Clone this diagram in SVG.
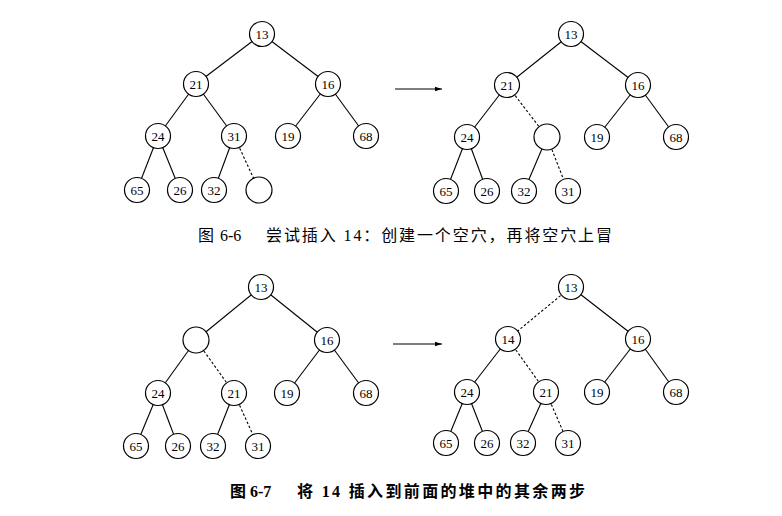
<svg xmlns="http://www.w3.org/2000/svg" width="782" height="516" viewBox="0 0 782 516">
<defs>
<style>
.e{stroke:#000;stroke-width:1.1;fill:none}
.d{stroke:#000;stroke-width:1.1;fill:none;stroke-dasharray:2.5,2}
.n circle{fill:#fff;stroke:#000;stroke-width:1.2}
.n text{font-family:"Liberation Serif",serif;font-size:13px;text-anchor:middle;fill:#000}
.cap{font-family:"Liberation Serif","Noto Sans CJK SC",serif;font-size:16px;fill:#000}
.b{font-weight:bold}
</style>
<marker id="ah" markerWidth="8" markerHeight="6" refX="7" refY="3" orient="auto" markerUnits="userSpaceOnUse">
<path d="M0,0.8 L7,3 L0,5.2 Z" fill="#000"/>
</marker>
</defs>
<rect width="782" height="516" fill="#fff"/>

<g id="connectors">
<!-- tree 1 -->
<line class="e" x1="262" y1="34" x2="196" y2="84"/>
<line class="e" x1="262" y1="34" x2="328" y2="84"/>
<line class="e" x1="196" y1="84" x2="158" y2="136"/>
<line class="e" x1="196" y1="84" x2="234" y2="136"/>
<line class="e" x1="328" y1="84" x2="288" y2="136"/>
<line class="e" x1="328" y1="84" x2="366" y2="136"/>
<line class="e" x1="158" y1="136" x2="137" y2="190"/>
<line class="e" x1="158" y1="136" x2="180" y2="190"/>
<line class="e" x1="234" y1="136" x2="214" y2="190"/>
<line class="d" x1="234" y1="136" x2="259" y2="190"/>
<!-- tree 2 -->
<line class="e" x1="571" y1="34" x2="507" y2="85"/>
<line class="e" x1="571" y1="34" x2="638" y2="85"/>
<line class="e" x1="507" y1="85" x2="467" y2="137"/>
<line class="d" x1="507" y1="85" x2="547" y2="137"/>
<line class="e" x1="638" y1="85" x2="597" y2="137"/>
<line class="e" x1="638" y1="85" x2="676" y2="137"/>
<line class="e" x1="467" y1="137" x2="446" y2="191"/>
<line class="e" x1="467" y1="137" x2="487" y2="191"/>
<line class="e" x1="547" y1="137" x2="524" y2="191"/>
<line class="d" x1="547" y1="137" x2="568" y2="191"/>
<!-- tree 3 -->
<line class="e" x1="261" y1="287" x2="196" y2="340"/>
<line class="e" x1="261" y1="287" x2="327" y2="340"/>
<line class="e" x1="196" y1="340" x2="158" y2="393"/>
<line class="d" x1="196" y1="340" x2="234" y2="393"/>
<line class="e" x1="327" y1="340" x2="287" y2="393"/>
<line class="e" x1="327" y1="340" x2="366" y2="393"/>
<line class="e" x1="158" y1="393" x2="136" y2="446"/>
<line class="e" x1="158" y1="393" x2="178" y2="446"/>
<line class="e" x1="234" y1="393" x2="213" y2="446"/>
<line class="d" x1="234" y1="393" x2="258" y2="446"/>
<!-- tree 4 -->
<line class="d" x1="571" y1="287" x2="508" y2="339"/>
<line class="e" x1="571" y1="287" x2="638" y2="339"/>
<line class="e" x1="508" y1="339" x2="467" y2="392"/>
<line class="d" x1="508" y1="339" x2="546" y2="392"/>
<line class="e" x1="638" y1="339" x2="597" y2="392"/>
<line class="e" x1="638" y1="339" x2="676" y2="392"/>
<line class="e" x1="467" y1="392" x2="446" y2="443"/>
<line class="e" x1="467" y1="392" x2="487" y2="443"/>
<line class="e" x1="546" y1="392" x2="523" y2="443"/>
<line class="d" x1="546" y1="392" x2="568" y2="443"/>
<!-- arrows -->
<line class="e" x1="395" y1="89" x2="442" y2="89" marker-end="url(#ah)"/>
<line class="e" x1="393" y1="344" x2="442" y2="344" marker-end="url(#ah)"/>
</g>

<g id="t1" class="n">
<g id="t1-13"><circle cx="262" cy="34" r="12.5"/><text x="262" y="38.5">13</text></g>
<g id="t1-21"><circle cx="196" cy="84" r="12.5"/><text x="196" y="88.5">21</text></g>
<g id="t1-16"><circle cx="328" cy="84" r="12.5"/><text x="328" y="88.5">16</text></g>
<g id="t1-24"><circle cx="158" cy="136" r="12.5"/><text x="158" y="140.5">24</text></g>
<g id="t1-31"><circle cx="234" cy="136" r="12.5"/><text x="234" y="140.5">31</text></g>
<g id="t1-19"><circle cx="288" cy="136" r="12.5"/><text x="288" y="140.5">19</text></g>
<g id="t1-68"><circle cx="366" cy="136" r="12.5"/><text x="366" y="140.5">68</text></g>
<g id="t1-65"><circle cx="137" cy="190" r="12.5"/><text x="137" y="194.5">65</text></g>
<g id="t1-26"><circle cx="180" cy="190" r="12.5"/><text x="180" y="194.5">26</text></g>
<g id="t1-32"><circle cx="214" cy="190" r="12.5"/><text x="214" y="194.5">32</text></g>
<g id="t1-hole"><circle cx="259" cy="190" r="13"/></g>
</g>

<g id="t2" class="n">
<g id="t2-13"><circle cx="571" cy="34" r="12.5"/><text x="571" y="38.5">13</text></g>
<g id="t2-21"><circle cx="507" cy="85" r="12.5"/><text x="507" y="89.5">21</text></g>
<g id="t2-16"><circle cx="638" cy="85" r="12.5"/><text x="638" y="89.5">16</text></g>
<g id="t2-24"><circle cx="467" cy="137" r="12.5"/><text x="467" y="141.5">24</text></g>
<g id="t2-hole"><circle cx="547" cy="137" r="13"/></g>
<g id="t2-19"><circle cx="597" cy="137" r="12.5"/><text x="597" y="141.5">19</text></g>
<g id="t2-68"><circle cx="676" cy="137" r="12.5"/><text x="676" y="141.5">68</text></g>
<g id="t2-65"><circle cx="446" cy="191" r="12.5"/><text x="446" y="195.5">65</text></g>
<g id="t2-26"><circle cx="487" cy="191" r="12.5"/><text x="487" y="195.5">26</text></g>
<g id="t2-32"><circle cx="524" cy="191" r="12.5"/><text x="524" y="195.5">32</text></g>
<g id="t2-31"><circle cx="568" cy="191" r="12.5"/><text x="568" y="195.5">31</text></g>
</g>

<g id="t3" class="n">
<g id="t3-13"><circle cx="261" cy="287" r="12.5"/><text x="261" y="291.5">13</text></g>
<g id="t3-hole"><circle cx="196" cy="340" r="13"/></g>
<g id="t3-16"><circle cx="327" cy="340" r="12.5"/><text x="327" y="344.5">16</text></g>
<g id="t3-24"><circle cx="158" cy="393" r="12.5"/><text x="158" y="397.5">24</text></g>
<g id="t3-21"><circle cx="234" cy="393" r="12.5"/><text x="234" y="397.5">21</text></g>
<g id="t3-19"><circle cx="287" cy="393" r="12.5"/><text x="287" y="397.5">19</text></g>
<g id="t3-68"><circle cx="366" cy="393" r="12.5"/><text x="366" y="397.5">68</text></g>
<g id="t3-65"><circle cx="136" cy="446" r="12.5"/><text x="136" y="450.5">65</text></g>
<g id="t3-26"><circle cx="178" cy="446" r="12.5"/><text x="178" y="450.5">26</text></g>
<g id="t3-32"><circle cx="213" cy="446" r="12.5"/><text x="213" y="450.5">32</text></g>
<g id="t3-31"><circle cx="258" cy="446" r="12.5"/><text x="258" y="450.5">31</text></g>
</g>

<g id="t4" class="n">
<g id="t4-13"><circle cx="571" cy="287" r="12.5"/><text x="571" y="291.5">13</text></g>
<g id="t4-14"><circle cx="508" cy="339" r="12.5"/><text x="508" y="343.5">14</text></g>
<g id="t4-16"><circle cx="638" cy="339" r="12.5"/><text x="638" y="343.5">16</text></g>
<g id="t4-24"><circle cx="467" cy="392" r="12.5"/><text x="467" y="396.5">24</text></g>
<g id="t4-21"><circle cx="546" cy="392" r="12.5"/><text x="546" y="396.5">21</text></g>
<g id="t4-19"><circle cx="597" cy="392" r="12.5"/><text x="597" y="396.5">19</text></g>
<g id="t4-68"><circle cx="676" cy="392" r="12.5"/><text x="676" y="396.5">68</text></g>
<g id="t4-65"><circle cx="446" cy="443" r="12.5"/><text x="446" y="447.5">65</text></g>
<g id="t4-26"><circle cx="487" cy="443" r="12.5"/><text x="487" y="447.5">26</text></g>
<g id="t4-32"><circle cx="523" cy="443" r="12.5"/><text x="523" y="447.5">32</text></g>
<g id="t4-31"><circle cx="568" cy="443" r="12.5"/><text x="568" y="447.5">31</text></g>
</g>

<g id="captions">
<text class="cap" x="198" y="241">图</text>
<text class="cap" x="220" y="241">6-6</text>
<text class="cap" x="266" y="241" textLength="346" lengthAdjust="spacing">尝试插入 14：创建一个空穴，再将空穴上冒</text>
<text class="cap b" x="230" y="497">图</text>
<text class="cap b" x="250" y="497">6-7</text>
<text class="cap b" x="297" y="497" textLength="288" lengthAdjust="spacing">将 14 插入到前面的堆中的其余两步</text>
</g>
</svg>
